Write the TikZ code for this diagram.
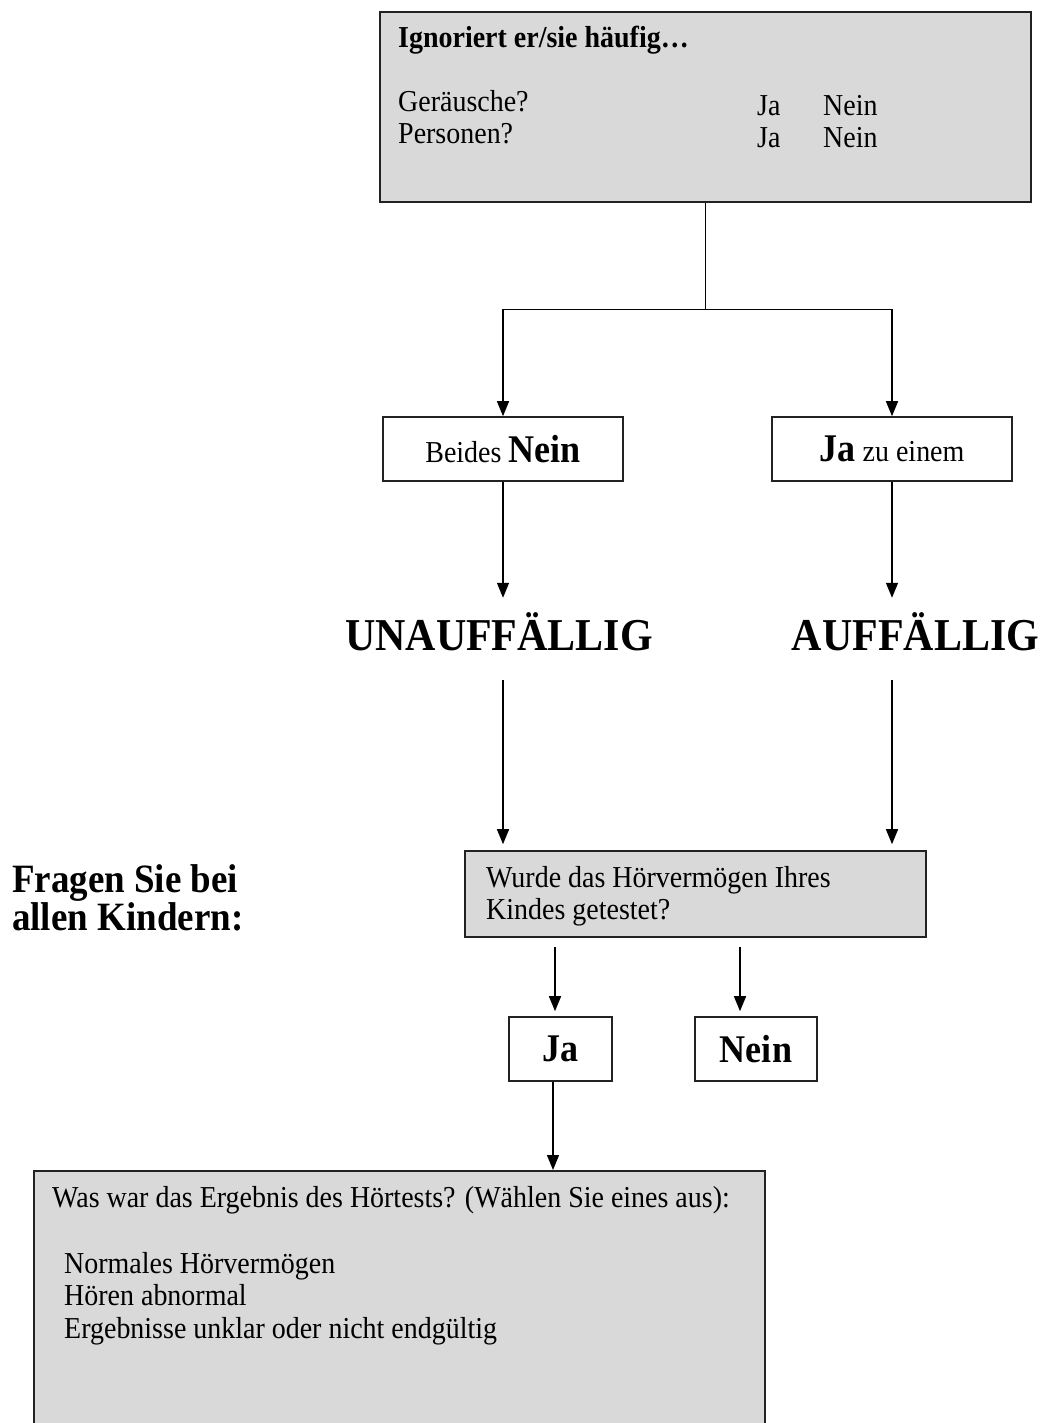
\documentclass[tikz,border=0pt]{standalone}
\usepackage{fontspec}
\setmainfont{Liberation Serif}[FakeStretch=0.92]
\usetikzlibrary{arrows.meta,calc}
\definecolor{boxgray}{HTML}{D9D9D9}
\definecolor{edge}{HTML}{222222}
\begin{document}
\begin{tikzpicture}[x=1pt,y=-1pt,
  every node/.style={font=\fontsize{30.4}{32.5}\selectfont, inner sep=0pt},
  greybox/.style={draw=edge, line width=1.6pt, fill=boxgray},
  whitebox/.style={draw=edge, line width=1.6pt, fill=white},
  conn/.style={line width=1.4pt, draw=black},
  arr/.style={conn, -{Triangle[length=15pt,width=12pt]}},
  headbold/.style={font=\fontsize{30.4}{32.5}\selectfont\bfseries},
  bigbold/.style={font=\fontsize{45.6}{48}\selectfont\bfseries},
  midbold/.style={font=\fontsize{39.2}{40}\selectfont\bfseries},
  sidebold/.style={font=\fontsize{40.2}{38}\selectfont\bfseries},
  txt/.style={anchor=base west}]

\useasboundingbox (0,0) rectangle (1049,1423);
\clip (0,0) rectangle (1049,1423);

% question box at the top
\node[greybox, anchor=north west, minimum width=651pt, minimum height=190pt] (ask) at (379,11) {};
\node[txt, headbold] (askhead) at (398,48) {Ignoriert er/sie häufig…};
\node[txt] (qnoise) at (398,112) {Geräusche?};
\node[txt] (qpeople) at (398,144) {Personen?};
\node[txt] (yesA) at (757,116) {Ja};
\node[txt] (noA) at (823,116) {Nein};
\node[txt] (yesB) at (757,148) {Ja};
\node[txt] (noB) at (823,148) {Nein};

% the two answers
\node[whitebox, minimum width=240pt, minimum height=64pt] (both) at (503,449)
  {Beides {\fontsize{39.2}{40}\selectfont\bfseries Nein}};
\node[whitebox, minimum width=240pt, minimum height=64pt] (one) at (892,449)
  {{\fontsize{39.2}{40}\selectfont\bfseries Ja} zu einem};

% outcomes
\node[bigbold, anchor=base, text height=52pt, text depth=30pt] (normal) at (499,650) {UNAUFFÄLLIG};
\node[bigbold, anchor=base, text height=52pt, text depth=30pt] (abnormal) at (915.5,650) {AUFFÄLLIG};

% follow-up question
\node[txt, sidebold] (all1) at (12,892) {Fragen Sie bei};
\node[txt, sidebold] (all2) at (12,930) {allen Kindern:};
\node[greybox, minimum width=461pt, minimum height=86pt] (tested) at (695.5,894) {};
\node[txt] (tq1) at (486,887) {Wurde das Hörvermögen Ihres};
\node[txt] (tq2) at (486,919) {Kindes getestet?};

\node[whitebox, midbold, minimum width=103pt, minimum height=64pt] (yes) at (560.5,1049) {Ja};
\node[whitebox, midbold, minimum width=122pt, minimum height=64pt] (no) at (756,1049) {Nein};

% result box, running off the lower edge
\node[greybox, anchor=north west, minimum width=731pt, minimum height=300pt] (result) at (33,1170) {};
\node[txt] (rq) at (52,1207) {Was war das Ergebnis des Hörtests? (Wählen Sie eines aus):};
\node[txt] (r1) at (64,1273) {Normales Hörvermögen};
\node[txt] (r2) at (64,1305) {Hören abnormal};
\node[txt] (r3) at (64,1338) {Ergebnisse unklar oder nicht endgültig};

% connectors
\coordinate (fork) at ($(ask.south)+(0,107)$);
\draw[conn] (ask.south) -- (fork);
\draw[arr] (fork) -| (both.north);
\draw[arr] (fork) -| (one.north);
\draw[arr] (both.south) -- (both.south |- normal.north);
\draw[arr] (one.south) -- (one.south |- abnormal.north);
\draw[arr, shorten >=6pt] (both.south |- normal.south) -- (both.south |- tested.north);
\draw[arr, shorten >=6pt] (one.south |- abnormal.south) -- (one.south |- tested.north);
\coordinate (yesIn) at ([xshift=-5.5pt]yes.north);
\coordinate (noIn) at ([xshift=-16pt]no.north);
\draw[arr, shorten <=9pt, shorten >=5pt] (tested.south -| yesIn) -- (yesIn);
\draw[arr, shorten <=9pt, shorten >=5pt] (tested.south -| noIn) -- (noIn);
\coordinate (yesOut) at ([xshift=-7.5pt]yes.south);
\draw[arr] (yesOut) -- (yesOut |- result.north);
\end{tikzpicture}
\end{document}
